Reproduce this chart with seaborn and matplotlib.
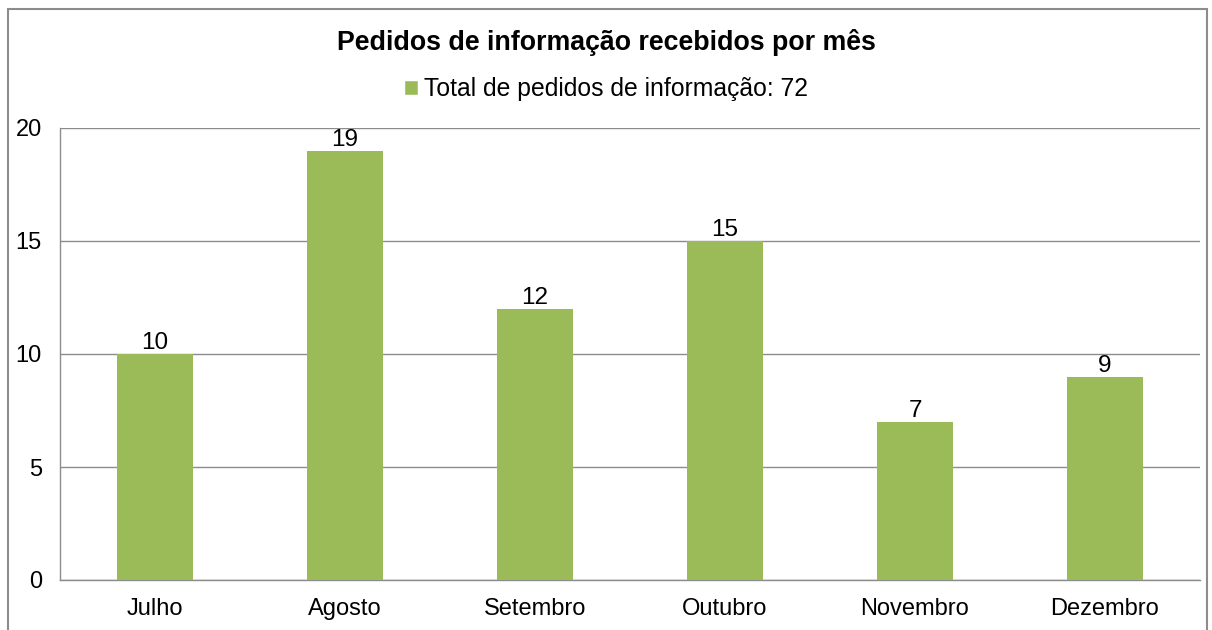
import matplotlib
matplotlib.use("Agg")
import matplotlib.pyplot as plt
import seaborn as sns
import pandas as pd
from matplotlib.patches import Rectangle, Patch

meses = ["Julho", "Agosto", "Setembro", "Outubro", "Novembro", "Dezembro"]
pedidos = [10, 19, 12, 15, 7, 9]
titulo = "Pedidos de informação recebidos por mês"
legenda = "Total de pedidos de informação: 72"
verde = "#9BBB59"

sns.set_style("white")
plt.rcParams["font.family"] = ["Liberation Sans", "DejaVu Sans"]
plt.rcParams["text.color"] = "black"

df = pd.DataFrame({"mes": meses, "pedidos": pedidos})

fig = plt.figure(figsize=(12.12, 6.3), dpi=100)
ax = fig.add_axes([60 / 1212, 1 - 580 / 630, 1140 / 1212, 452 / 630])

sns.barplot(data=df, x="mes", y="pedidos", color=verde, width=0.4,
            saturation=1, linewidth=0, ax=ax, zorder=3)

ax.set_ylim(0, 20)
ax.set_yticks([0, 5, 10, 15, 20])
ax.yaxis.grid(True, color="#8c8c8c", linewidth=1, zorder=0)
ax.set_xlabel("")
ax.set_ylabel("")
ax.tick_params(axis="both", length=0, labelsize=17, colors="black")
ax.tick_params(axis="x", pad=13)
ax.tick_params(axis="y", pad=13)
for lado in ["top", "right"]:
    ax.spines[lado].set_visible(False)
for lado in ["left", "bottom"]:
    ax.spines[lado].set_color("#8c8c8c")
    ax.spines[lado].set_linewidth(1)

for c in ax.containers:
    ax.bar_label(c, labels=[str(v) for v in pedidos], fontsize=17.5,
                 padding=0, color="black")

fig.text(0.5, 1 - 42 / 630, titulo, ha="center", va="center",
         fontsize=19.3, fontweight="bold", color="black")
fig.legend(handles=[Patch(facecolor=verde, label=legenda)],
           loc="center", bbox_to_anchor=(0.5, 1 - 89 / 630), frameon=False,
           fontsize=17.8, handlelength=0.55, handleheight=0.55,
           handletextpad=0.25, labelcolor="black")

borda = Rectangle((8 / 1212, -0.1), 1199 / 1212, 1.1 - 9 / 630,
                  transform=fig.transFigure, fill=False,
                  edgecolor="#8c8c8c", linewidth=1.5, clip_on=False)
fig.patches.append(borda)

fig.savefig("out.png", dpi=100)
plt.close()
